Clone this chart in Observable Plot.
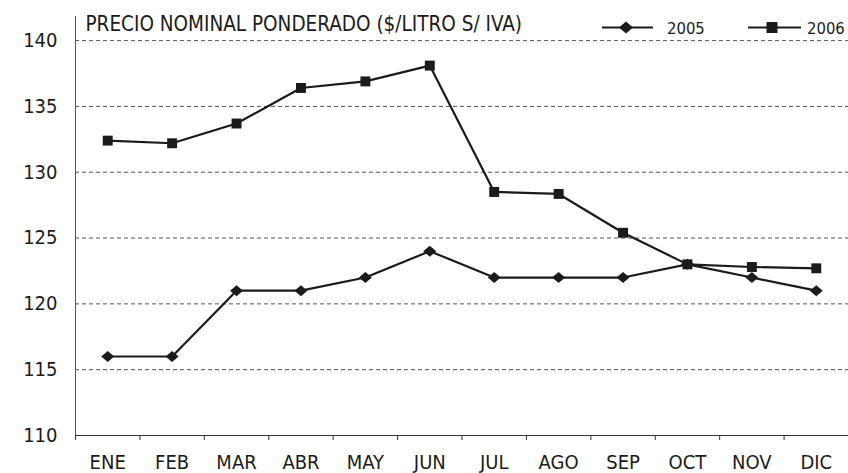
<!DOCTYPE html>
<html>
<head>
<meta charset="utf-8">
<script src="https://cdn.jsdelivr.net/npm/d3@7"></script>
<script src="https://cdn.jsdelivr.net/npm/@observablehq/plot@0.6"></script>
<style>
  html, body { margin: 0; padding: 0; background: #fff; }
  #wrap { position: relative; width: 848px; height: 473px; font-family: "Liberation Sans Narrow", "DejaVu Sans Condensed", "Liberation Sans", sans-serif; }
  #legend { position: absolute; left: 0; top: 0; pointer-events: none; }
</style>
</head>
<body>
<div id="wrap"></div>
<script>
const months = ["ENE","FEB","MAR","ABR","MAY","JUN","JUL","AGO","SEP","OCT","NOV","DIC"];
const v2005 = [116, 116, 121, 121, 122, 124, 122, 122, 122, 123, 122, 121];
const v2006 = [132.4, 132.2, 133.7, 136.4, 136.9, 138.1, 128.5, 128.35, 125.4, 123.0, 122.8, 122.7];
const yTicks = [110, 115, 120, 125, 130, 135, 140];
const gridTicks = [115, 120, 125, 130, 135, 140];
const title = "PRECIO NOMINAL PONDERADO ($/LITRO S/ IVA)";
const seriesNames = ["2005", "2006"];

const data = [];
months.forEach((m, i) => {
  data.push({series: seriesNames[0], i: i + 0.5, month: m, value: v2005[i]});
  data.push({series: seriesNames[1], i: i + 0.5, month: m, value: v2006[i]});
});

const diamondWide = {
  draw(ctx, size) {
    const r = Math.sqrt(size / Math.PI);
    ctx.moveTo(-r * 1.18, 0);
    ctx.lineTo(0, -r);
    ctx.lineTo(r * 1.18, 0);
    ctx.lineTo(0, r);
    ctx.closePath();
  }
};

const ink = "#1b1b1b";
const font = '"Liberation Sans Narrow", "DejaVu Sans Condensed", "Liberation Sans", sans-serif';

const chart = Plot.plot({
  width: 848,
  height: 473,
  marginLeft: 75,
  marginRight: 0,
  marginTop: 16,
  marginBottom: 38,
  style: {fontFamily: font, fontSize: "20px", color: ink, background: "#fff"},
  x: {domain: [0, 12], axis: null, label: null},
  y: {domain: [110, 141.83], axis: null, label: null},
  marks: [
    Plot.gridY(gridTicks, {stroke: "#555", strokeOpacity: 1, strokeDasharray: "4,3", strokeWidth: 1}),
    Plot.ruleY([110], {stroke: "#333", strokeWidth: 1}),
    Plot.ruleX([0], {stroke: "#555", strokeWidth: 1}),
    Plot.axisX(d3.range(13), {tickSize: 5, tickFormat: () => "", stroke: "#333", label: null}),
    Plot.axisX(months.map((m, i) => i + 0.5), {tickSize: 0, tickPadding: 19, tickFormat: (d) => months[Math.floor(d)], fontSize: 20, fill: ink, label: null}),
    Plot.axisY(yTicks, {tickSize: 0, tickPadding: 18, fontSize: 20, fill: ink, label: null}),
    Plot.text([title], {frameAnchor: "top-left", dx: 10, dy: 0, lineAnchor: "top", fontSize: 20.5, fill: ink}),
    Plot.line(data.filter(d => d.series === "2005"), {x: "i", y: "value", stroke: ink, strokeWidth: 2.2}),
    Plot.line(data.filter(d => d.series === "2006"), {x: "i", y: "value", stroke: ink, strokeWidth: 2.2}),
    Plot.dot(data.filter(d => d.series === "2005"), {x: "i", y: "value", symbol: diamondWide, r: 5.5, fill: ink, stroke: "none"}),
    Plot.dot(data.filter(d => d.series === "2006"), {x: "i", y: "value", symbol: "square", r: 5.6, fill: ink, stroke: "none"})
  ]
});

const wrap = document.getElementById("wrap");
wrap.appendChild(chart);

// Legend (overlay)
const ns = "http://www.w3.org/2000/svg";
const leg = document.createElementNS(ns, "svg");
leg.setAttribute("id", "legend");
leg.setAttribute("width", 848);
leg.setAttribute("height", 50);
const entries = [
  {name: seriesNames[0], x0: 602, x1: 653, cx: 626, tx: 667, shape: "diamond"},
  {name: seriesNames[1], x0: 748, x1: 801, cx: 772, tx: 807, shape: "square"}
];
for (const e of entries) {
  const ln = document.createElementNS(ns, "line");
  ln.setAttribute("x1", e.x0); ln.setAttribute("x2", e.x1);
  ln.setAttribute("y1", 27.5); ln.setAttribute("y2", 27.5);
  ln.setAttribute("stroke", ink); ln.setAttribute("stroke-width", 2);
  leg.appendChild(ln);
  const sh = document.createElementNS(ns, "path");
  if (e.shape === "diamond") {
    sh.setAttribute("d", `M${e.cx - 7},27.5L${e.cx},21.5L${e.cx + 7},27.5L${e.cx},33.5Z`);
  } else {
    sh.setAttribute("d", `M${e.cx - 5.5},22L${e.cx + 5.5},22L${e.cx + 5.5},33L${e.cx - 5.5},33Z`);
  }
  sh.setAttribute("fill", ink);
  leg.appendChild(sh);
  const tx = document.createElementNS(ns, "text");
  tx.setAttribute("x", e.tx); tx.setAttribute("y", 34);
  tx.setAttribute("font-size", 16.5);
  tx.setAttribute("font-family", font);
  tx.setAttribute("fill", ink);
  tx.textContent = e.name;
  leg.appendChild(tx);
}
wrap.appendChild(leg);
</script>
</body>
</html>
